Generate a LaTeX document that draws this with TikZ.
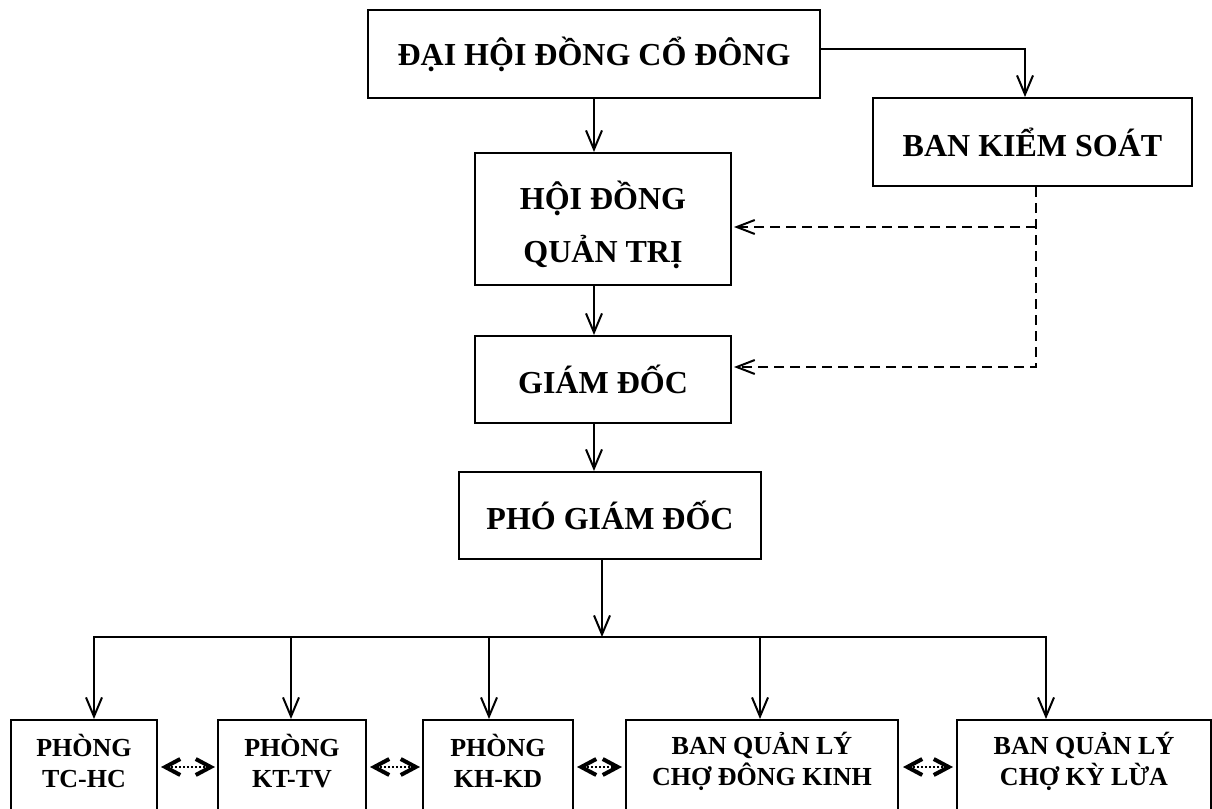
\documentclass[tikz,border=0pt]{standalone}
\usepackage{fontspec}
\setmainfont{Liberation Serif}
\usetikzlibrary{arrows.meta,calc}
\newcommand\myBig{\fontsize{32pt}{53pt}\selectfont\bfseries}
\newcommand\mySmall{\fontsize{26pt}{31pt}\selectfont\bfseries}
\begin{document}
\begin{tikzpicture}[x=1pt,y=-1pt,
  box/.style={draw, line width=2pt, inner sep=0pt, align=center, font=\myBig},
  bbox/.style={draw, line width=2pt, inner sep=0pt, minimum height=94pt},
  btext/.style={inner sep=0pt, align=center, font=\mySmall},
  arr/.style={line width=2pt, -{Straight Barb[length=19pt,width=16pt]}},
  dsh/.style={line width=2pt, dash pattern=on 10pt off 6pt, -{Straight Barb[length=18pt,width=14pt]}},
  dbl/.style={line width=2pt, dash pattern=on 2pt off 2pt,
    {Straight Barb[length=15pt,width=16pt,line width=4pt]}-{Straight Barb[length=15pt,width=16pt,line width=4pt]}}]
\useasboundingbox (0,0) rectangle (1212,808);
\clip (0,0) rectangle (1212,808);
\fill[white] (0,0) rectangle (1212,808);

% upper boxes
\node[box, minimum width=452pt, minimum height=88pt] (dh) at (594,54) {ĐẠI HỘI ĐỒNG CỔ ĐÔNG};
\node[box, minimum width=319pt, minimum height=88pt] (bks) at (1032.5,142) {BAN KIỂM SOÁT};
\node[box, minimum width=256pt, minimum height=132pt] (hd) at (603,219) {};
\node[inner sep=0pt, align=center, font=\myBig] (hdt) at (603,225) {HỘI ĐỒNG\\QUẢN TRỊ};
\node[box, minimum width=256pt, minimum height=87pt] (gd) at (603,379.5) {GIÁM ĐỐC};
\node[box, minimum width=302pt, minimum height=87pt] (pgd) at (610,515.5) {PHÓ GIÁM ĐỐC};

% bottom boxes
\node[bbox, minimum width=146pt] (b1) at (84,767) {};
\node[bbox, minimum width=148pt] (b2) at (292,767) {};
\node[bbox, minimum width=150pt] (b3) at (498,767) {};
\node[bbox, minimum width=272pt] (b4) at (762,767) {};
\node[bbox, minimum width=254pt] (b5) at (1084,767) {};
\node[btext] (b1t) at (84,761) {PHÒNG\\TC-HC};
\node[btext] (b2t) at (292,761) {PHÒNG\\KT-TV};
\node[btext] (b3t) at (498,761) {PHÒNG\\KH-KD};
\node[btext] (b4t) at (762,761) {BAN QUẢN LÝ\\CHỢ ĐÔNG KINH};
\node[btext] (b5t) at (1084,761) {BAN QUẢN LÝ\\CHỢ KỲ LỪA};

% main chain
\coordinate (ax) at (594,0);
\draw[arr] (dh.south) -- (hd.north -| ax);
\draw[arr] (hd.south -| ax) -- (gd.north -| ax);
\draw[arr] (gd.south -| ax) -- (pgd.north -| ax);
\draw[arr] ([yshift=5pt]dh.east) -| ([xshift=-7.5pt]bks.north);

% dashed control lines
\coordinate (dv) at ([xshift=3.5pt]bks.south);
\coordinate (hE) at ([yshift=-8pt]hd.east);
\coordinate (gE) at ([yshift=12.5pt]gd.east);
\draw[dsh] (dv) |- ([xshift=2pt]gE);
\draw[dsh] (hE -| dv) -- ([xshift=2pt]hE);

% bus
\coordinate (bus) at (602,637);
\coordinate (t1) at (94,637);
\coordinate (t2) at (291,637);
\coordinate (t3) at (489,637);
\coordinate (t4) at (760,637);
\coordinate (t5) at (1046,637);
\draw[arr] (bus |- pgd.south) -- (bus);
\draw[line width=2pt] ([xshift=-1pt]t1) -- ([xshift=1pt]t5);
\draw[arr] (t1) -- (t1 |- b1.north);
\draw[arr] (t2) -- (t2 |- b2.north);
\draw[arr] (t3) -- (t3 |- b3.north);
\draw[arr] (t4) -- (t4 |- b4.north);
\draw[arr] (t5) -- (t5 |- b5.north);

% double dotted links
\draw[dbl, shorten <=3pt, shorten >=2pt] (b1.east) -- (b2.west);
\draw[dbl, shorten <=3pt, shorten >=2pt] (b2.east) -- (b3.west);
\draw[dbl, shorten <=3pt, shorten >=3pt] (b3.east) -- (b4.west);
\draw[dbl, shorten <=4pt, shorten >=3pt] (b4.east) -- (b5.west);
\end{tikzpicture}
\end{document}
